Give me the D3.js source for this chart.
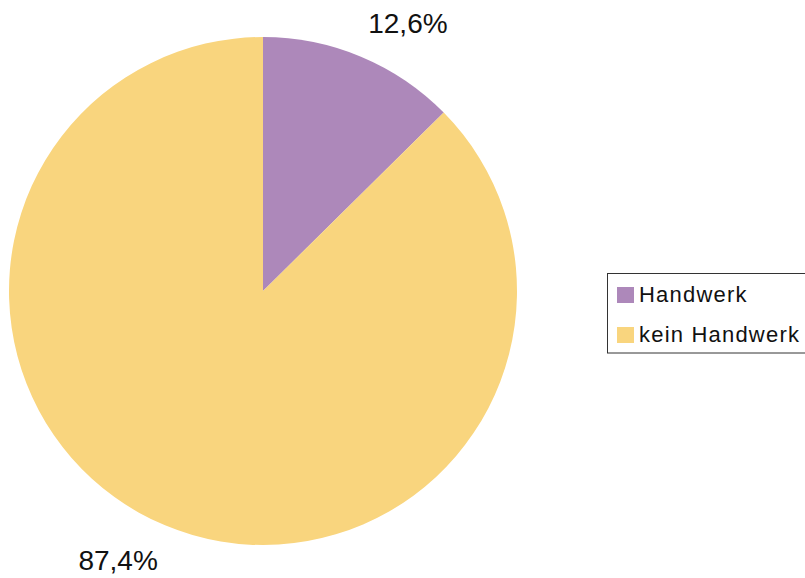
<!DOCTYPE html>
<html><head><meta charset="utf-8">
<script src="https://cdn.jsdelivr.net/npm/d3@7"></script>
<style>body{margin:0;background:#fff;}svg{display:block;font-family:"Liberation Sans",Arial,sans-serif;}</style>
</head><body>
<svg id="c" width="805" height="578"></svg>
<script>
const categories = ["Handwerk", "kein Handwerk"];
const values = [12.6, 87.4];
const labels = ["12,6%", "87,4%"];
const colors = ["#ad88ba", "#f9d57e"];

const svg = d3.select("#c");
const cx = 263, cy = 291, r = 254;
const pie = d3.pie().sort(null).value(d => d)(values);
const arc = d3.arc().innerRadius(0).outerRadius(r);
const g = svg.append("g").attr("transform", `translate(${cx},${cy})`);
g.selectAll("path").data(pie).join("path")
  .attr("d", arc).attr("fill", (d, i) => colors[i]);

const lr = 291;
g.selectAll("text.lbl").data(pie).join("text").attr("class", "lbl")
  .each(function(d, i) {
    const a = (d.startAngle + d.endAngle) / 2;
    const x = lr * Math.sin(a), y = -lr * Math.cos(a);
    const right = x >= 0;
    d3.select(this).attr("x", right ? x - 7 : x + 7).attr("y", y)
      .attr("dy", "0.36em")
      .attr("text-anchor", right ? "start" : "end")
      .attr("font-size", 28).attr("fill", "#111")
      .text(labels[i]);
  });

const leg = svg.append("g");
leg.append("rect").attr("x", 607.5).attr("y", 273.5).attr("width", 210).attr("height", 79.5)
  .attr("fill", "#fff").attr("stroke", "#333").attr("stroke-width", 1);
const ly = d3.scalePoint().domain(categories).range([295, 335]);
categories.forEach((c, i) => {
  leg.append("rect").attr("x", 617).attr("y", ly(c) - 8).attr("width", 17).attr("height", 16)
    .attr("fill", colors[i]);
  leg.append("text").attr("x", 639).attr("y", ly(c) + 6.5)
    .attr("font-size", 22).attr("letter-spacing", 1.2).attr("fill", "#111").text(c);
});
</script>
</body></html>
